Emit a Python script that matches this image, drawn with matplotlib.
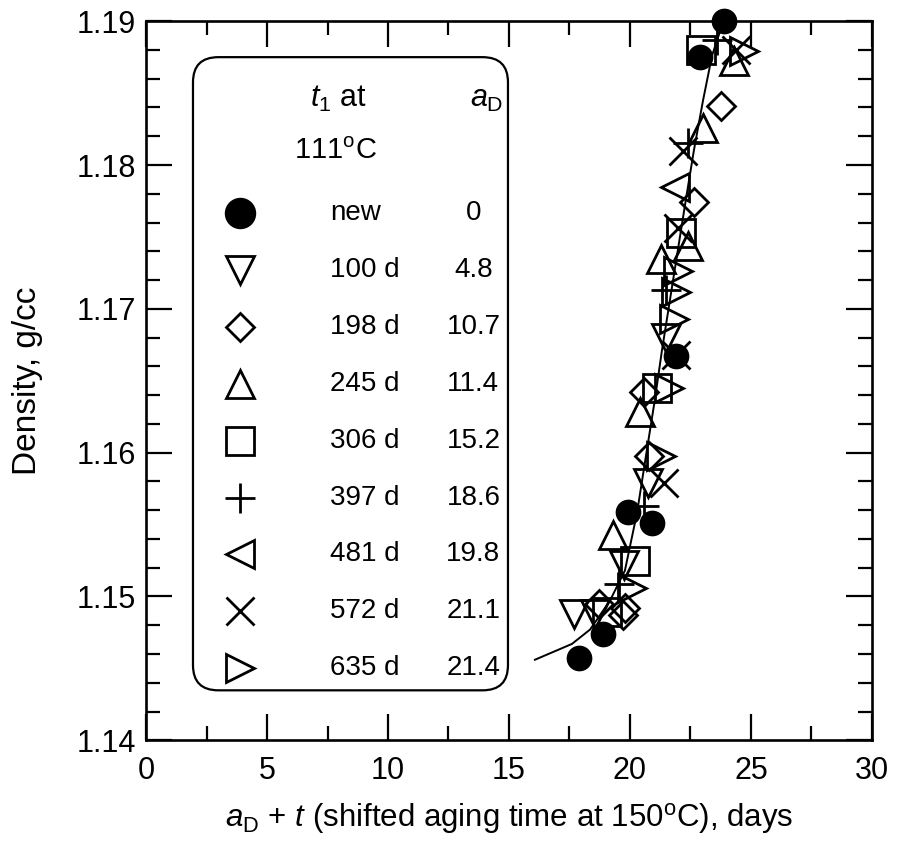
import numpy as np
import matplotlib
matplotlib.use('Agg')
import matplotlib.pyplot as plt
from matplotlib.patches import FancyBboxPatch

plt.rcParams['font.family'] = ['Liberation Sans', 'DejaVu Sans']
plt.rcParams['mathtext.fontset'] = 'custom'
plt.rcParams['mathtext.rm'] = 'Liberation Sans'
plt.rcParams['mathtext.it'] = 'Liberation Sans:italic'

# data
new_x = [17.9, 18.9, 19.9, 20.9, 21.9, 22.9, 23.9]
new_y = [1.1457, 1.1474, 1.1559, 1.1551, 1.1667, 1.1875, 1.1900]

d100_x = [17.7, 18.55, 19.75, 20.75, 21.5]
d100_y = [1.1488, 1.1488, 1.1522, 1.1579, 1.1680]

d198_x = [18.7, 19.8, 19.7, 20.6, 20.8, 22.65, 23.76]
d198_y = [1.1495, 1.1492, 1.1487, 1.1642, 1.1598, 1.1774, 1.1841]

d245_x = [19.3, 20.4, 21.3, 22.4, 23.0, 24.3]
d245_y = [1.1543, 1.1628, 1.1735, 1.1744, 1.1826, 1.1872]

d306_x = [19.05, 20.2, 21.1, 22.1, 22.95]
d306_y = [1.1489, 1.1525, 1.1645, 1.1753, 1.1880]

d397_x = [19.55, 20.6, 21.5, 22.4, 23.6]
d397_y = [1.1509, 1.1563, 1.1713, 1.1815, 1.1887]

d481_x = [21.86]
d481_y = [1.1785]

d572_x = [21.4, 21.9, 22.0, 22.2, 24.4]
d572_y = [1.1579, 1.1668, 1.1756, 1.1810, 1.1880]

d635_x = [20.1, 21.3, 21.6, 21.8, 21.9, 21.98, 24.7]
d635_y = [1.1506, 1.1598, 1.1645, 1.1693, 1.1712, 1.1726, 1.1879]

fit_x = [16.07, 17.60, 18.35, 19.17, 19.79, 20.29, 20.70, 21.03, 21.32,
         21.65, 21.98, 22.31, 22.64, 23.02, 23.39, 23.80]
fit_y = [1.1456, 1.1467, 1.1477, 1.1497, 1.1518, 1.1558, 1.1602, 1.1637,
         1.1671, 1.1706, 1.1741, 1.1776, 1.1810, 1.1845, 1.1876, 1.1897]

labels = ['new', '100 d', '198 d', '245 d', '306 d', '397 d', '481 d', '572 d', '635 d']
a_D = ['0', '4.8', '10.7', '11.4', '15.2', '18.6', '19.8', '21.1', '21.4']

series = [
    (new_x, new_y, 'o', 16.5),
    (d100_x, d100_y, 'v', 20),
    (d198_x, d198_y, 'D', 14),
    (d245_x, d245_y, '^', 20),
    (d306_x, d306_y, 's', 20),
    (d397_x, d397_y, '+', 21),
    (d481_x, d481_y, '<', 20),
    (d572_x, d572_y, 'x', 20),
    (d635_x, d635_y, '>', 20),
]

fig = plt.figure(figsize=(8.98, 8.48), dpi=100)
ax = fig.add_axes([0.1626, 0.127, 0.8084, 0.848])

ax.plot(fit_x, fit_y, '-', color='black', lw=1.4, zorder=2)

for xs, ys, m, ms in series:
    filled = m == 'o'
    ax.plot(xs, ys, linestyle='none', marker=m, markersize=ms,
            markerfacecolor='black' if filled else 'none',
            markeredgecolor='black', markeredgewidth=2.0, clip_on=False, zorder=3)

ax.set_xlim(0, 30)
ax.set_ylim(1.14, 1.19)
ax.set_xticks(np.arange(0, 31, 5))
ax.set_xticks(np.arange(2.5, 30, 5), minor=True)
ax.set_yticks(np.arange(1.14, 1.1901, 0.01))
ax.set_yticks(np.arange(1.14, 1.19, 0.002), minor=True)
ax.set_yticklabels(['%.2f' % v for v in np.arange(1.14, 1.1901, 0.01)])

ax.tick_params(which='both', direction='in', top=True, right=True, width=1.6,
               labelsize=22)
ax.tick_params(which='major', length=19)
ax.tick_params(which='minor', length=10)
ax.tick_params(axis='x', pad=11)
ax.tick_params(axis='y', pad=7)
for s in ax.spines.values():
    s.set_linewidth(1.9)

ax.set_xlabel(r'$a_\mathrm{D}$ + $t$ (shifted aging time at 150$^\mathrm{o}$C), days',
              fontsize=22.5, labelpad=11)
ax.set_ylabel('Density, g/cc', fontsize=24)
ax.yaxis.set_label_coords(-0.142, 0.5)

# legend box drawn by hand
box = FancyBboxPatch((0.0647, 0.0695), 0.4339, 0.8805,
                     boxstyle='round,pad=0,rounding_size=0.035',
                     transform=ax.transAxes, facecolor='white',
                     edgecolor='black', lw=1.6, zorder=5)
ax.add_patch(box)

tr = ax.transAxes
ax.text(0.226, 0.892, r'$t_1$ at', transform=tr, fontsize=22, ha='left',
        va='center', zorder=6)
ax.text(0.446, 0.892, r'$a_\mathrm{D}$', transform=tr, fontsize=22,
        ha='left', va='center', zorder=6)
ax.text(0.261, 0.819, r'111$^\mathrm{o}$C', transform=tr, fontsize=21,
        ha='center', va='center', zorder=6)

row_y = 0.733 - 0.0791 * np.arange(len(labels))
for (xs, ys, m, ms), lab, ad, yy in zip(series, labels, a_D, row_y):
    filled = m == 'o'
    ax.plot([0.1295], [yy], transform=tr, linestyle='none', marker=m,
            markersize=ms * (1.25 if filled else 1.0),
            markerfacecolor='black' if filled else 'none',
            markeredgecolor='black', markeredgewidth=2.0, clip_on=False, zorder=6)
    ax.text(0.2534, yy, lab, transform=tr, fontsize=20, ha='left',
            va='center', zorder=6)
    ax.text(0.451, yy, ad, transform=tr, fontsize=20, ha='center',
            va='center', zorder=6)

fig.savefig('out.png', dpi=100)
